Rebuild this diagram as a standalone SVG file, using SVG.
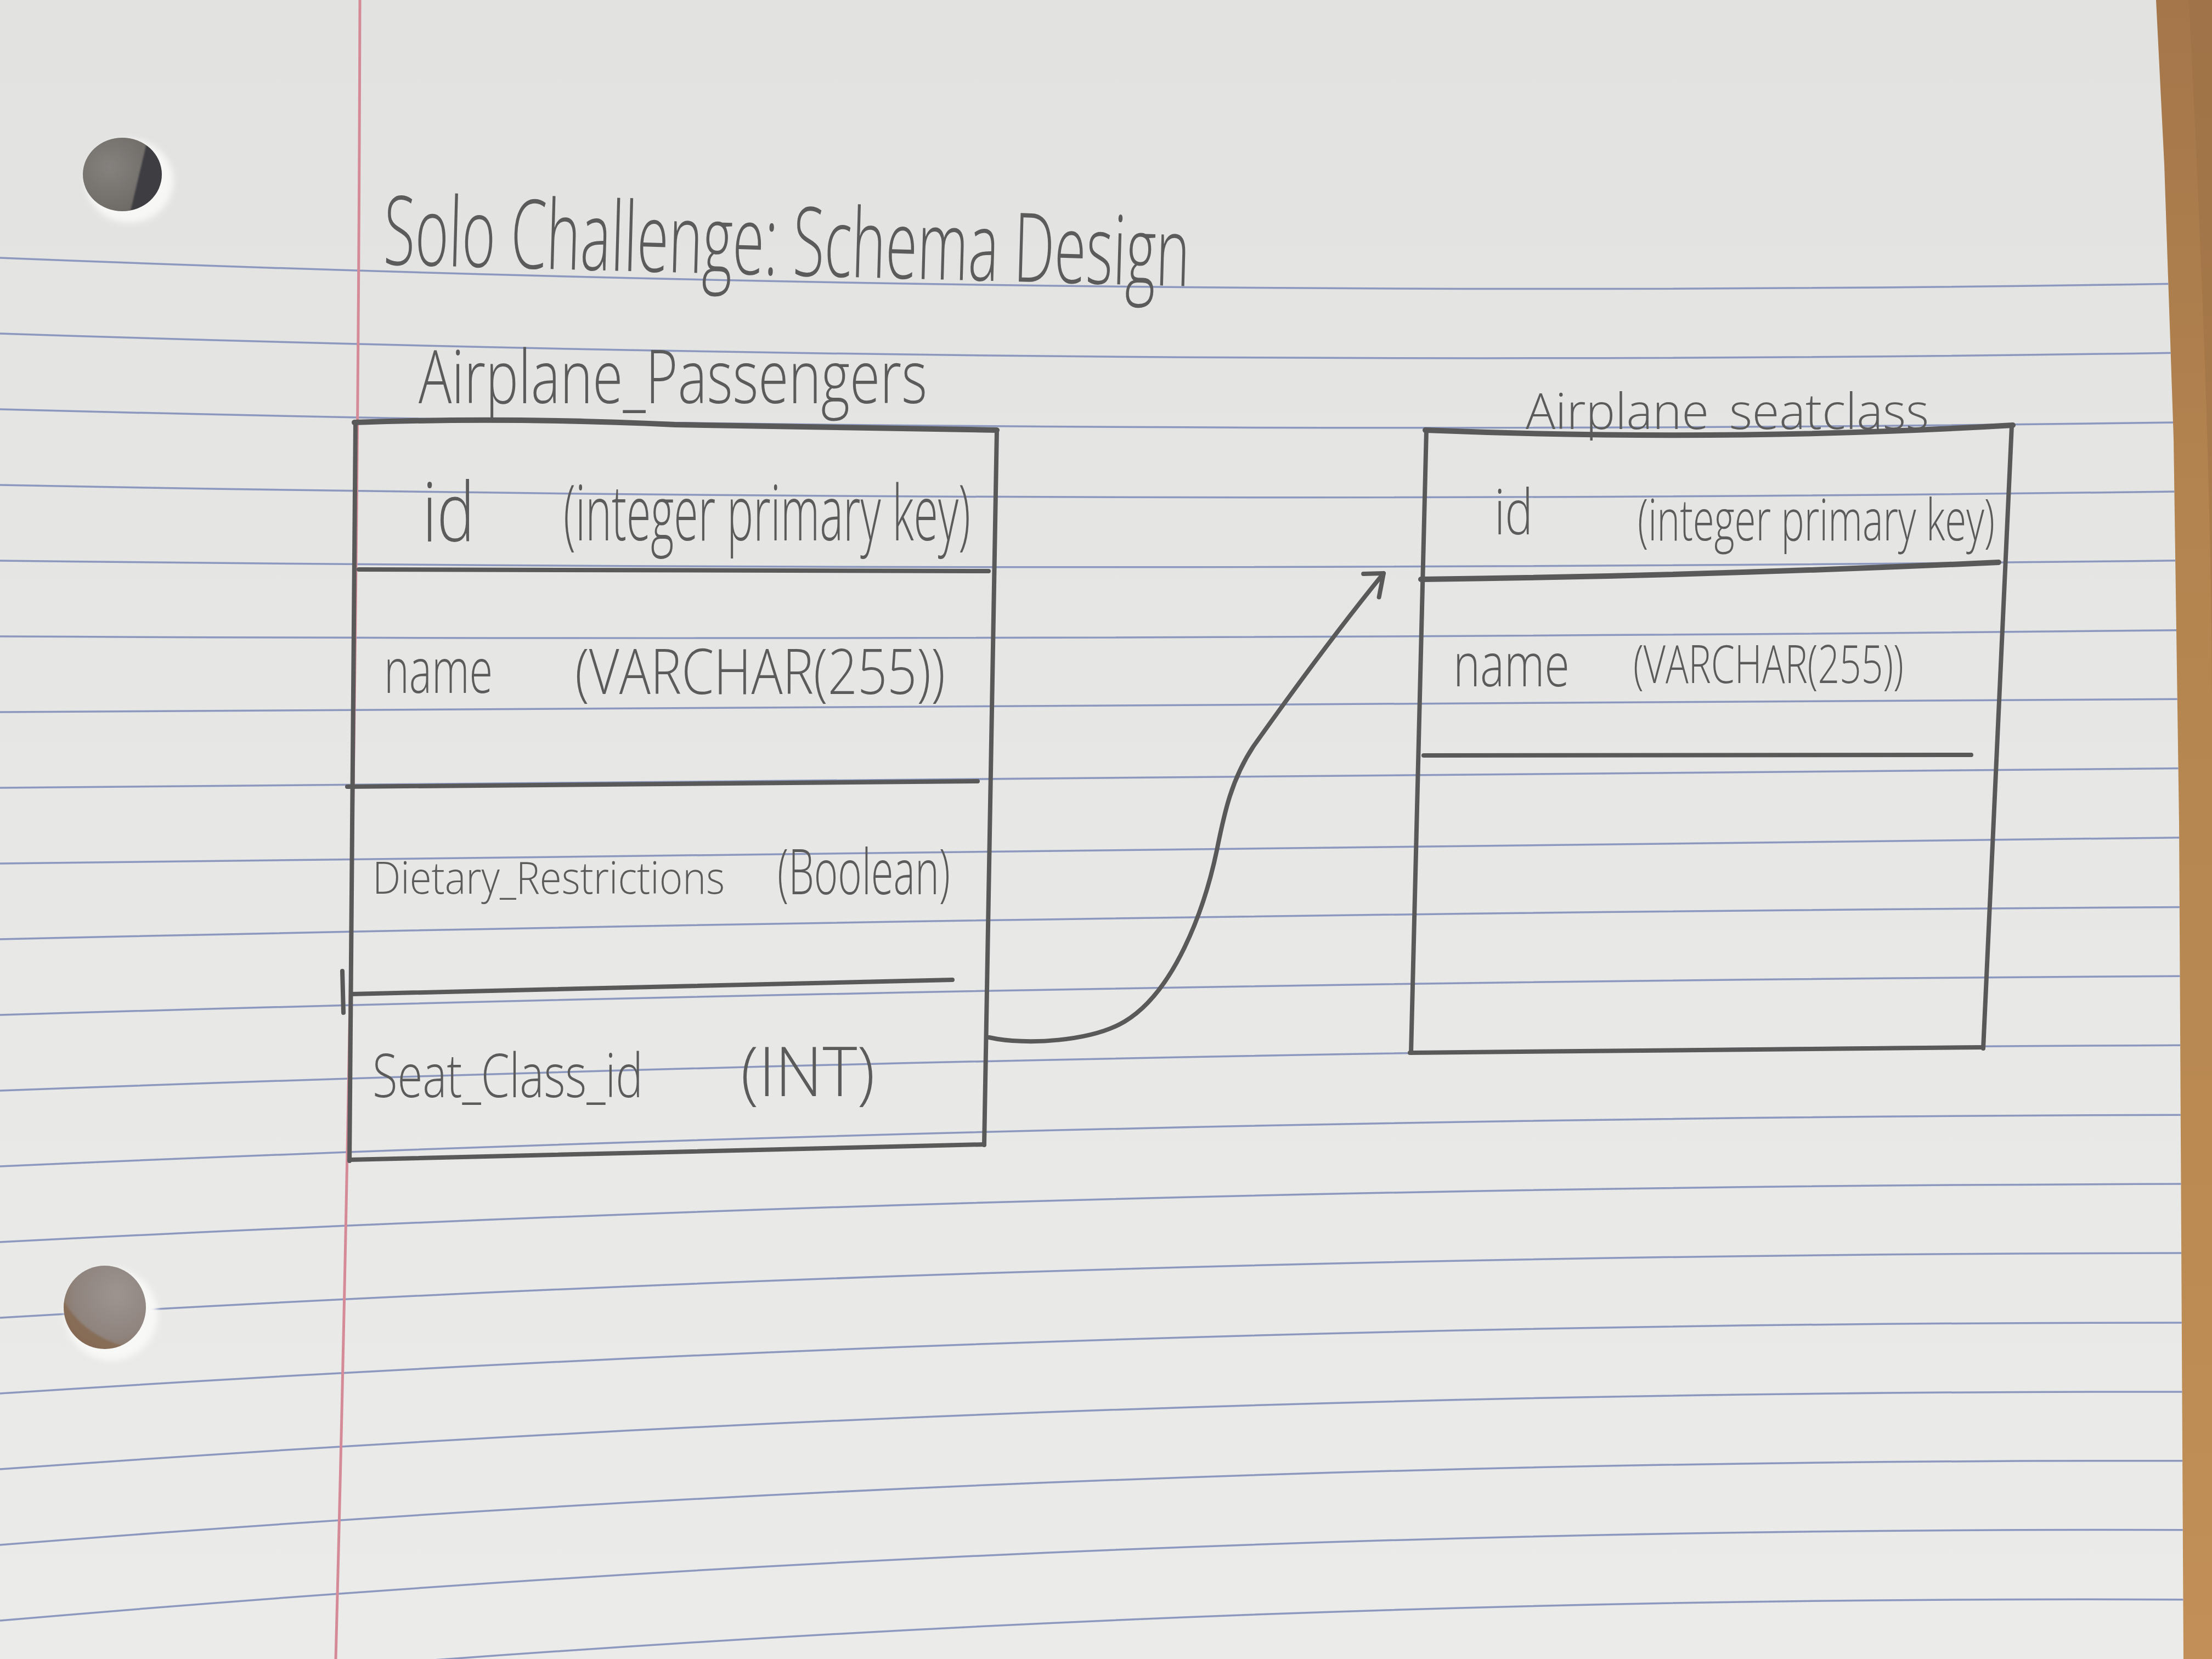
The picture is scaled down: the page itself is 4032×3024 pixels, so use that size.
<svg xmlns="http://www.w3.org/2000/svg" width="4032" height="3024" viewBox="0 0 4032 3024">
  <defs>
    <style>
      .pen { font-family: 'Open Sans', 'Inter', 'Liberation Sans', sans-serif; font-weight: 300; fill: #5b5b5b; }
      .ink { fill: none; stroke: #595959; stroke-width: 8; stroke-linecap: round; stroke-linejoin: round; }
      .ink-heavy { stroke-width: 10; }
      .rule { fill: none; stroke: #8c98bd; stroke-width: 3.5; }
      .margin { fill: none; stroke: #d48a97; stroke-width: 5; }
    </style>
    <linearGradient id="paperShade" x1="0" y1="0" x2="0" y2="1">
      <stop offset="0" stop-color="#e2e2e1"/>
      <stop offset="0.5" stop-color="#e7e7e6"/>
      <stop offset="1" stop-color="#ebebea"/>
    </linearGradient>
    <linearGradient id="wood" x1="0" y1="0" x2="0" y2="1">
      <stop offset="0" stop-color="#a4764a"/>
      <stop offset="0.3" stop-color="#b3844f"/>
      <stop offset="1" stop-color="#c18f57"/>
    </linearGradient>
    <radialGradient id="holeGrey" cx="0.35" cy="0.4" r="0.7">
      <stop offset="0" stop-color="#85817d"/>
      <stop offset="1" stop-color="#66635f"/>
    </radialGradient>
    <radialGradient id="holeBrown" cx="0.6" cy="0.35" r="0.75">
      <stop offset="0" stop-color="#9d9490"/>
      <stop offset="0.6" stop-color="#8f847e"/>
      <stop offset="1" stop-color="#86694f"/>
    </radialGradient>
    <filter id="soft" x="-20%" y="-20%" width="140%" height="140%">
      <feGaussianBlur stdDeviation="6"/>
    </filter>
    <filter id="edge" x="-5%" y="-5%" width="110%" height="110%">
      <feGaussianBlur stdDeviation="1.5"/>
    </filter>
    <clipPath id="paperClip">
      <path d="M0,0 L3930,0 L3945,300 L3962,800 L3972,1500 L3980,3024 L0,3024 Z"/>
    </clipPath>
    <clipPath id="hole1Clip">
      <ellipse cx="223" cy="318" rx="72" ry="67"/>
    </clipPath>
    <clipPath id="hole2Clip">
      <ellipse cx="191" cy="2383" rx="75" ry="76"/>
    </clipPath>
    <marker id="penArrow" markerUnits="userSpaceOnUse" markerWidth="80" markerHeight="80" viewBox="-50 -40 60 80" refX="0" refY="0" orient="auto">
      <path d="M-24,-28 L0,0 L-39,21" fill="none" stroke="#595959" stroke-width="8" stroke-linecap="round" stroke-linejoin="round"/>
    </marker>
  </defs>

  <!-- desk under the sheet -->
  <rect x="0" y="0" width="4032" height="3024" fill="url(#wood)"/>
  <path d="M3990,0 C4010,400 4032,900 4032,1300 L4032,0 Z" fill="#9c6f45" opacity="0.5"/>

  <!-- ruled sheet -->
  <g id="sheet" clip-path="url(#paperClip)">
    <rect x="0" y="0" width="4032" height="3024" fill="url(#paperShade)"/>
    <g id="ruling">
      <path class="rule" d="M0,470 Q2016,551 4032,516"/>
      <path class="rule" d="M0,608 Q2016,675 4032,642"/>
      <path class="rule" d="M0,746 Q2016,799 4032,769"/>
      <path class="rule" d="M0,884 Q2016,923 4032,895"/>
      <path class="rule" d="M0,1022 Q2016,1046 4032,1021"/>
      <path class="rule" d="M0,1160 Q2016,1170 4032,1148"/>
      <path class="rule" d="M0,1298 Q2016,1294 4032,1274"/>
      <path class="rule" d="M0,1436 Q2016,1418 4032,1400"/>
      <path class="rule" d="M0,1574 Q2016,1542 4032,1526"/>
      <path class="rule" d="M0,1712 Q2016,1666 4032,1653"/>
      <path class="rule" d="M0,1850 Q2016,1790 4032,1779"/>
      <path class="rule" d="M0,1988 Q2016,1913 4032,1905"/>
      <path class="rule" d="M0,2126 Q2016,2037 4032,2032"/>
      <path class="rule" d="M0,2264 Q2016,2161 4032,2158"/>
      <path class="rule" d="M0,2402 Q2016,2285 4032,2284"/>
      <path class="rule" d="M0,2540 Q2016,2409 4032,2411"/>
      <path class="rule" d="M0,2678 Q2016,2533 4032,2537"/>
      <path class="rule" d="M0,2816 Q2016,2657 4032,2663"/>
      <path class="rule" d="M0,2954 Q2016,2780 4032,2789"/>
      <path class="rule" d="M0,3092 Q2016,2904 4032,2916"/>
    </g>
    <path class="margin" d="M656,0 Q652,1500 612,3024"/>

    <!-- punched holes -->
    <g id="hole-top">
      <ellipse cx="236" cy="330" rx="80" ry="76" fill="#f7f7f6" filter="url(#soft)"/>
      <g clip-path="url(#hole1Clip)" filter="url(#edge)">
        <rect x="140" y="240" width="170" height="160" fill="url(#holeGrey)"/>
        <path d="M272,240 L234,400 L310,400 L310,240 Z" fill="#3d3d43"/>
      </g>
    </g>
    <g id="hole-bottom">
      <ellipse cx="203" cy="2396" rx="84" ry="84" fill="#f8f8f7" filter="url(#soft)"/>
      <g clip-path="url(#hole2Clip)" filter="url(#edge)">
        <rect x="110" y="2300" width="170" height="170" fill="url(#holeBrown)"/>
        <path d="M110,2360 Q150,2440 250,2460 L110,2470 Z" fill="#85674d" opacity="0.7"/>
      </g>
    </g>
  </g>

  <!-- heading -->
  <g id="heading">
    <text class="pen" x="698" y="482" font-size="175" textLength="1470" lengthAdjust="spacingAndGlyphs" transform="rotate(1.55 698 482)">Solo Challenge: Schema Design</text>
  </g>

  <!-- table: Airplane_Passengers -->
  <g id="table-airplane-passengers">
    <text class="pen" x="763" y="735" font-size="135" textLength="927" lengthAdjust="spacingAndGlyphs">Airplane_Passengers</text>
    <path class="ink ink-heavy" d="M646,770 Q925,760 1230,774 L1817,784"/>
    <path class="ink" d="M648,770 L637,2116"/>
    <path class="ink" d="M624,1770 L626,1846"/>
    <path class="ink" d="M1817,784 L1794,2087"/>
    <path class="ink" d="M637,2114 Q1200,2100 1794,2086"/>
    <path class="ink" d="M654,1038 L1802,1041"/>
    <path class="ink" d="M633,1434 L1782,1424"/>
    <path class="ink" d="M641,1812 L1736,1786"/>
    <text id="row-passenger-id" class="pen"><tspan x="770" y="987" font-size="150" textLength="95" lengthAdjust="spacingAndGlyphs">id</tspan> <tspan x="1027" y="985" font-size="140" textLength="742" lengthAdjust="spacingAndGlyphs">(integer primary key)</tspan></text>
    <text id="row-passenger-name" class="pen"><tspan x="700" y="1263" font-size="115" textLength="198" lengthAdjust="spacingAndGlyphs">name</tspan> <tspan x="1048" y="1265" font-size="115" textLength="675" lengthAdjust="spacingAndGlyphs">(VARCHAR(255))</tspan></text>
    <text id="row-passenger-dietary" class="pen"><tspan x="679" y="1629" font-size="82" textLength="642" lengthAdjust="spacingAndGlyphs">Dietary_Restrictions</tspan> <tspan x="1417" y="1630" font-size="115" textLength="315" lengthAdjust="spacingAndGlyphs">(Boolean)</tspan></text>
    <text id="row-passenger-seat" class="pen"><tspan x="679" y="2000" font-size="110" textLength="493" lengthAdjust="spacingAndGlyphs">Seat_Class_id</tspan> <tspan x="1350" y="1998" font-size="125" textLength="245" lengthAdjust="spacingAndGlyphs">(INT)</tspan></text>
  </g>

  <!-- table: Airplane_seatclass -->
  <g id="table-airplane-seatclass">
    <text class="pen" x="2781" y="782" font-size="90" textLength="735" lengthAdjust="spacingAndGlyphs">Airplane_seatclass</text>
    <path class="ink ink-heavy" d="M2598,784 Q3150,806 3669,775"/>
    <path class="ink" d="M2600,784 L2572,1919"/>
    <path class="ink" d="M3667,776 L3615,1911"/>
    <path class="ink" d="M2570,1919 L3615,1909"/>
    <path class="ink ink-heavy" d="M2590,1056 Q3100,1050 3643,1025"/>
    <path class="ink" d="M2595,1377 L3593,1376"/>
    <text id="row-seatclass-id" class="pen"><tspan x="2724" y="974" font-size="115" textLength="70" lengthAdjust="spacingAndGlyphs">id</tspan> <tspan x="2985" y="985" font-size="105" textLength="651" lengthAdjust="spacingAndGlyphs">(integer primary key)</tspan></text>
    <text id="row-seatclass-name" class="pen"><tspan x="2649" y="1251" font-size="110" textLength="212" lengthAdjust="spacingAndGlyphs">name</tspan> <tspan x="2977" y="1245" font-size="95" textLength="493" lengthAdjust="spacingAndGlyphs">(VARCHAR(255))</tspan></text>
  </g>

  <!-- relationship: Seat_Class_id -> seatclass.id -->
  <g id="connectors">
    <path class="ink" d="M1803,1891 C1870,1906 1990,1898 2050,1862 C2140,1808 2195,1660 2218,1550 C2232,1480 2245,1420 2285,1360 Q2420,1170 2522,1045" marker-end="url(#penArrow)"/>
  </g>
</svg>
